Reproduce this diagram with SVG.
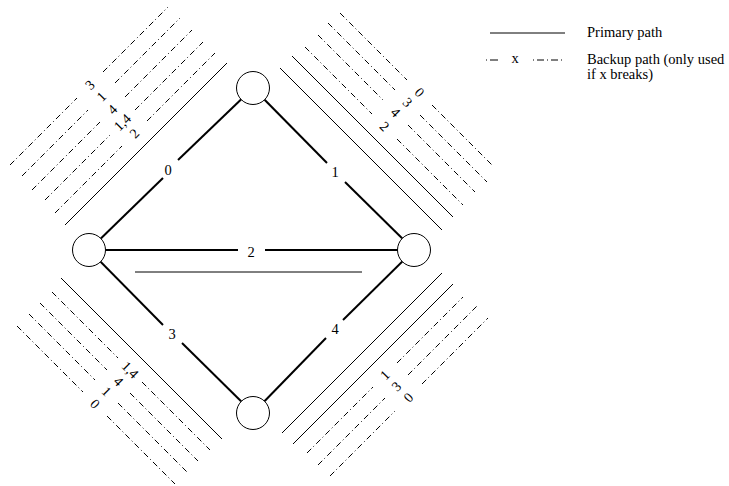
<svg xmlns="http://www.w3.org/2000/svg" width="729" height="486" viewBox="0 0 729 486">
<style>
.edge{stroke:#000;stroke-width:2;fill:none}
.pri{stroke:#000;stroke-width:1;fill:none}
.bak{stroke:#000;stroke-width:1;fill:none;stroke-dasharray:6 3 1 3}
.node{fill:#fff;stroke:#000;stroke-width:1}
text{font-family:"Liberation Serif","Times New Roman",serif;fill:#000}
.el{font-size:14.5px;text-anchor:middle;dominant-baseline:central}
.ll{font-size:14px;text-anchor:middle;dominant-baseline:central}
.lg{font-size:14.5px}
</style>
<rect width="729" height="486" fill="#fff"/>
<g id="connectors">
  <line class="edge" x1="89" y1="250" x2="163" y2="178"/>
  <line class="edge" x1="178" y1="160" x2="253" y2="88"/>
  <line class="edge" x1="253" y1="88" x2="327" y2="163"/>
  <line class="edge" x1="345" y1="182" x2="414" y2="250"/>
  <line class="edge" x1="89" y1="250" x2="238" y2="250"/>
  <line class="edge" x1="265" y1="250" x2="414" y2="250"/>
  <line class="edge" x1="89" y1="250" x2="163" y2="325"/>
  <line class="edge" x1="182" y1="343" x2="253" y2="413"/>
  <line class="edge" x1="414" y1="250" x2="343" y2="320"/>
  <line class="edge" x1="326" y1="338" x2="253" y2="413"/>
  <text class="el" x="168" y="170">0</text>
  <text class="el" x="335" y="172">1</text>
  <text class="el" x="251" y="252">2</text>
  <text class="el" x="172" y="334">3</text>
  <text class="el" x="335" y="329">4</text>
  <line class="pri" x1="135" y1="272" x2="362" y2="272"/>
</g>
<g id="node-top"><circle class="node" cx="253" cy="88" r="16.5"/></g>
<g id="node-left"><circle class="node" cx="89" cy="250" r="16.5"/></g>
<g id="node-right"><circle class="node" cx="414" cy="250" r="16.5"/></g>
<g id="node-bottom"><circle class="node" cx="253" cy="413" r="16.5"/></g>
<g id="paths-top-left">
  <line class="pri" x1="65" y1="225" x2="227" y2="63"/>
  <line class="bak" x1="10" y1="165" x2="77" y2="98"/><line class="bak" x1="103" y1="72" x2="168" y2="7"/>
  <line class="bak" x1="22" y1="176" x2="88" y2="110"/><line class="bak" x1="115" y1="83" x2="180" y2="18"/>
  <line class="bak" x1="32" y1="190" x2="100" y2="122"/><line class="bak" x1="125" y1="97" x2="192" y2="30"/>
  <line class="bak" x1="45" y1="200" x2="110" y2="135"/><line class="bak" x1="135" y1="110" x2="203" y2="42"/>
  <line class="bak" x1="55" y1="213" x2="122" y2="146"/><line class="bak" x1="147" y1="121" x2="215" y2="53"/>
  <text class="ll" transform="translate(90,85) rotate(-45)">3</text>
  <text class="ll" transform="translate(101.5,96.5) rotate(-45)">1</text>
  <text class="ll" transform="translate(112.5,109.5) rotate(-45)">4</text>
  <text class="ll" transform="translate(122.5,122.5) rotate(-45)">1,4</text>
  <text class="ll" transform="translate(134.5,133.5) rotate(-45)">2</text>
</g>
<g id="paths-top-right">
  <line class="pri" x1="280" y1="68" x2="442" y2="230"/>
  <line class="pri" x1="292" y1="56" x2="453" y2="217"/>
  <line class="bak" x1="305" y1="47" x2="372" y2="114"/><line class="bak" x1="397" y1="139" x2="463" y2="205"/>
  <line class="bak" x1="318" y1="35" x2="383" y2="100"/><line class="bak" x1="408" y1="125" x2="475" y2="192"/>
  <line class="bak" x1="328" y1="23" x2="395" y2="90"/><line class="bak" x1="420" y1="115" x2="487" y2="182"/>
  <line class="bak" x1="340" y1="13" x2="407" y2="80"/><line class="bak" x1="432" y1="105" x2="492" y2="165"/>
  <text class="ll" transform="translate(384.5,126.5) rotate(45)">2</text>
  <text class="ll" transform="translate(395.5,112.5) rotate(45)">4</text>
  <text class="ll" transform="translate(407.5,102.5) rotate(45)">3</text>
  <text class="ll" transform="translate(419.5,92.5) rotate(45)">0</text>
</g>
<g id="paths-bottom-left">
  <line class="pri" x1="61" y1="278" x2="222" y2="439"/>
  <line class="bak" x1="52" y1="292" x2="118" y2="358"/><line class="bak" x1="142" y1="382" x2="210" y2="450"/>
  <line class="bak" x1="40" y1="303" x2="107" y2="370"/><line class="bak" x1="130" y1="393" x2="198" y2="461"/>
  <line class="bak" x1="29" y1="314" x2="95" y2="380"/><line class="bak" x1="118" y1="403" x2="187" y2="472"/>
  <line class="bak" x1="17" y1="326" x2="83" y2="392"/><line class="bak" x1="107" y1="416" x2="175" y2="484"/>
  <text class="ll" transform="translate(130,370) rotate(45)">1,4</text>
  <text class="ll" transform="translate(118.5,381.5) rotate(45)">4</text>
  <text class="ll" transform="translate(106.5,391.5) rotate(45)">1</text>
  <text class="ll" transform="translate(95,404) rotate(45)">0</text>
</g>
<g id="paths-bottom-right">
  <line class="pri" x1="282" y1="433" x2="442" y2="273"/>
  <line class="pri" x1="293" y1="444" x2="453" y2="284"/>
  <line class="bak" x1="307" y1="453" x2="373" y2="387"/><line class="bak" x1="397" y1="363" x2="463" y2="297"/>
  <line class="bak" x1="318" y1="465" x2="385" y2="398"/><line class="bak" x1="408" y1="375" x2="477" y2="306"/>
  <line class="bak" x1="330" y1="476" x2="395" y2="411"/><line class="bak" x1="422" y1="384" x2="488" y2="318"/>
  <text class="ll" transform="translate(385,375) rotate(-45)">1</text>
  <text class="ll" transform="translate(396.5,386.5) rotate(-45)">3</text>
  <text class="ll" transform="translate(408.5,397.5) rotate(-45)">0</text>
</g>
<g id="legend">
  <line class="pri" x1="490" y1="33" x2="565" y2="33"/>
  <text class="lg" x="587" y="37">Primary path</text>
  <line class="bak" x1="486" y1="60" x2="498" y2="60" style="stroke-dasharray:1 3 8 3"/>
  <text class="lg" x="515" y="63" text-anchor="middle">x</text>
  <line class="bak" x1="533" y1="60" x2="564" y2="60" style="stroke-dasharray:1 3 7 3"/>
  <text class="lg" x="587" y="64">Backup path (only used</text>
  <text class="lg" x="587" y="79">if x breaks)</text>
</g>
</svg>
